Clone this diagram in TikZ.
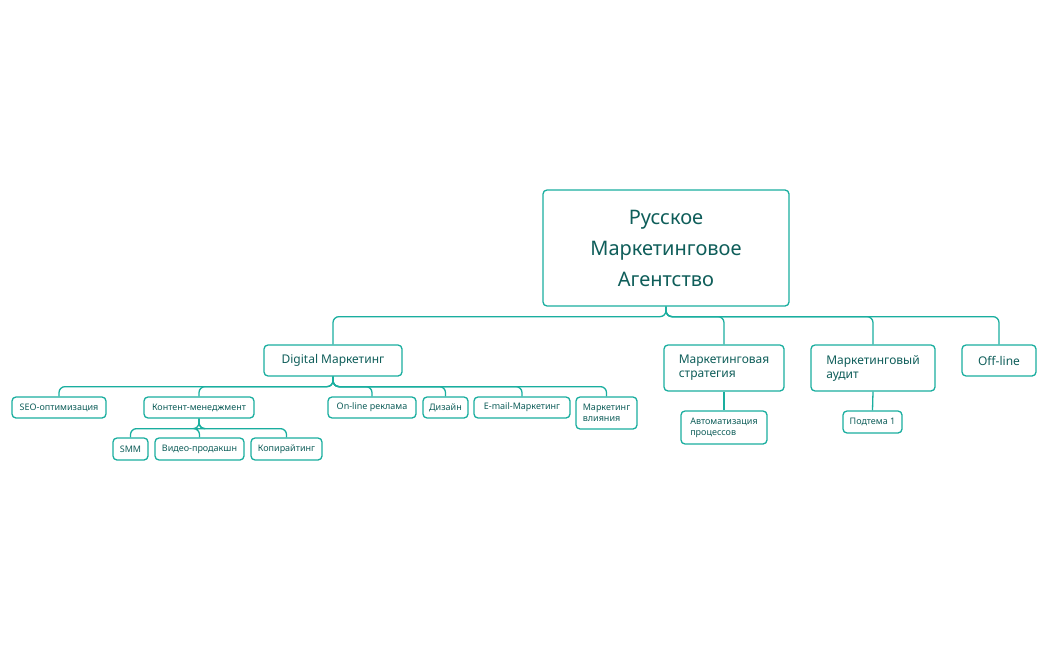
\documentclass[tikz,border=0pt]{standalone}
\usepackage{fontspec}
\setmainfont{Noto Sans}
\definecolor{bord}{HTML}{1AAE9F}
\definecolor{txt}{HTML}{0F5E5A}
\begin{document}
\begin{tikzpicture}[x=1pt,y=-1pt,
  box/.style={draw=bord,line width=1.3pt,rounded corners=4pt,text=txt,align=left,inner sep=0pt,fill=white},
  lone/.style={box,font=\fontsize{12}{14}\selectfont},
  ltwo/.style={box,font=\fontsize{9}{11}\selectfont},
  conn/.style={draw=bord,line width=1.3pt,rounded corners=6pt}]
\useasboundingbox (0,0) rectangle (1049,650);
\node[box,minimum width=246pt,minimum height=116pt,align=center,font=\fontsize{20}{31}\selectfont\bfseries] (root) at (666,248) {Русское\\Маркетинговое\\Агентство};
\node[lone,minimum width=138pt,minimum height=31pt] (dig) at (333,360.5) {Digital Маркетинг};
\node[lone,minimum width=120pt,minimum height=46pt] (str) at (724,368) {Маркетинговая\\стратегия};
\node[lone,minimum width=124pt,minimum height=46pt] (aud) at (873,368) {Маркетинговый\\аудит};
\node[lone,minimum width=74pt,minimum height=31pt] (off) at (999,360.5) {Off-line};
\node[ltwo,minimum width=94pt,minimum height=21pt] (seo) at (59,407.5) {SEO-оптимизация};
\node[ltwo,minimum width=110pt,minimum height=21pt] (kon) at (199,407.5) {Контент-менеджмент};
\node[ltwo,minimum width=88pt,minimum height=21pt] (onl) at (372,407.5) {On-line реклама};
\node[ltwo,minimum width=45pt,minimum height=21pt] (diz) at (445.5,407.5) {Дизайн};
\node[ltwo,minimum width=96pt,minimum height=21pt] (eml) at (522,407.5) {E-mail-Маркетинг};
\node[ltwo,minimum width=61pt,minimum height=32pt] (vli) at (606.5,413) {Маркетинг\\влияния};
\node[ltwo,minimum width=35pt,minimum height=22pt] (smm) at (130.5,449) {SMM};
\node[ltwo,minimum width=89pt,minimum height=22pt] (vid) at (199.5,449) {Видео-продакшн};
\node[ltwo,minimum width=71pt,minimum height=22pt] (kop) at (286.5,449) {Копирайтинг};
\node[ltwo,minimum width=86pt,minimum height=33pt] (avt) at (724,427.5) {Автоматизация\\процессов};
\node[ltwo,minimum width=59pt,minimum height=22pt] (pod) at (872.5,422) {Подтема 1};
\begin{scope}[on background layer/.try]
\foreach \c in {dig,str,aud,off} \draw[conn] (root.south) -- ++(0,10) -| (\c.north);
\foreach \c in {seo,kon,onl,diz,eml,vli} \draw[conn] (dig.south) -- ++(0,10) -| (\c.north);
\foreach \c in {smm,vid,kop} \draw[conn] (kon.south) -- ++(0,10) -| (\c.north);
\draw[conn] (str.south) -- (avt.north);
\draw[conn] (aud.south) -- (pod.north);
\end{scope}
\end{tikzpicture}
\end{document}
